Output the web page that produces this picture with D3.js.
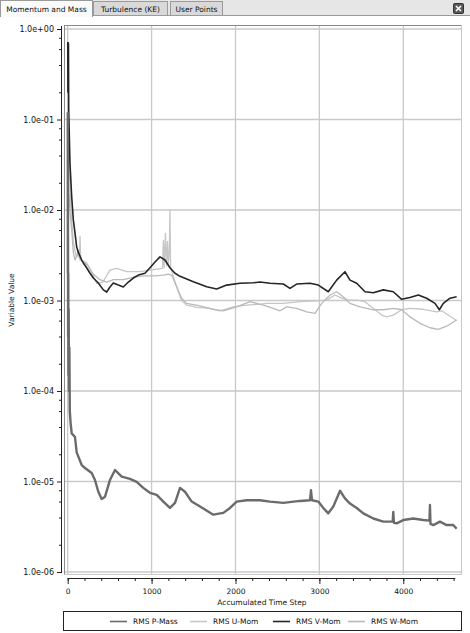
<!DOCTYPE html>
<meta charset="utf-8">
<style>
  body, html { margin:0; padding:0; background:#fff; }
  svg { display:block; }
  text { font-family: "DejaVu Sans", Verdana, sans-serif; fill:#111; }
</style>
<body>
<svg width="470" height="633"></svg>
<script src="https://d3js.org/d3.v7.min.js"></script>
<script>

// tabs of the solver monitor window
var tabNames = ["Momentum and Mass", "Turbulence (KE)", "User Points"];

var seriesNames = ["RMS P-Mass", "RMS U-Mom", "RMS V-Mom", "RMS W-Mom"];

var xTicks = [0, 1000, 2000, 3000, 4000];
var xTickLabels = ["0", "1000", "2000", "3000", "4000"];
var xMinorTicks = d3.range(0, 4601, 200);

var yTicks = [1, 1e-1, 1e-2, 1e-3, 1e-4, 1e-5, 1e-6];
var yTickLabels = ["1.0e+00", "1.0e-01", "1.0e-02", "1.0e-03", "1.0e-04", "1.0e-05", "1.0e-06"];

// [accumulated time step, value]
var pMass = [[1,0.12],[2,2e-3],[3,1.5e-2],[5,4e-4],[7,2e-3],[9,1.5e-4],[12,8e-4],[15,1e-4],[20,3e-4],
  [25,6e-5],[35,4.4e-5],[48,3.4e-5],[87,3.1e-5],[107,2.1e-5],[167,1.52e-5],[206,1.41e-5],[286,1.24e-5],
  [325,1.04e-5],[365,7.7e-6],[405,6.4e-6],[445,6.8e-6],[504,1.04e-5],[564,1.34e-5],[644,1.13e-5],
  [743,1.07e-5],[822,9.9e-6],[901,8.5e-6],[981,7.5e-6],[1061,7.1e-6],[1140,6.0e-6],[1219,5.1e-6],
  [1279,5.8e-6],[1339,8.5e-6],[1398,7.7e-6],[1478,6.0e-6],[1577,5.3e-6],[1735,4.3e-6],[1855,4.5e-6],
  [1935,5.1e-6],[2014,6.0e-6],[2134,6.2e-6],[2292,6.2e-6],[2411,6.0e-6],[2570,5.8e-6],[2769,6.1e-6],
  [2888,6.2e-6],[2900,8.0e-6],[2912,6.2e-6],[2987,6.0e-6],[3047,5.1e-6],[3106,4.45e-6],[3166,5.3e-6],
  [3225,7.1e-6],[3246,7.9e-6],[3305,6.5e-6],[3365,5.7e-6],[3445,5.1e-6],[3524,4.45e-6],[3643,3.9e-6],
  [3762,3.6e-6],[3874,3.6e-6],[3881,4.6e-6],[3888,3.5e-6],[3921,3.45e-6],[4000,3.75e-6],[4119,3.9e-6],
  [4238,3.75e-6],[4312,3.7e-6],[4318,5.5e-6],[4324,3.4e-6],[4358,3.3e-6],[4437,3.6e-6],[4517,3.3e-6],
  [4596,3.3e-6],[4636,3.0e-6]];

var uMom = [[2,0.1],[4,0.03],[6,0.08],[10,0.04],[20,0.025],[35,0.012],[48,0.0075],[67,0.0045],[87,0.0035],
  [107,0.003],[127,0.0033],[140,0.0029],[147,0.0051],[155,0.0028],[226,0.0026],[290,0.002],[345,0.00155],
  [420,0.0016],[504,0.00217],[584,0.00227],[703,0.00208],[862,0.00208],[981,0.00217],[1130,0.00227],
  [1140,0.0046],[1150,0.0023],[1165,0.0055],[1178,0.0024],[1190,0.0045],[1200,0.0025],[1212,0.0036],
  [1219,0.01],[1226,0.0024],[1240,0.0021],[1279,0.0016],[1319,0.00125],[1358,0.001],[1418,0.00089],
  [1537,0.00084],[1696,0.00082],[1815,0.00077],[1974,0.00085],[2134,0.00089],[2292,0.00091],[2372,0.00093],
  [2570,0.00093],[2769,0.00097],[2968,0.00099],[3087,0.00101],[3186,0.00115],[3266,0.00106],[3345,0.00101],
  [3445,0.00101],[3544,0.00097],[3663,0.00079],[3743,0.00069],[3802,0.00066],[3881,0.00069],[3981,0.00079],
  [4080,0.00082],[4238,0.0008],[4398,0.00075],[4458,0.00077],[4557,0.00067],[4636,0.0006]];

var vMom = [[1,0.72],[3,0.2],[5,0.65],[7,0.22],[9,0.7],[12,0.13],[27,0.033],[48,0.0139],[67,0.0078],
  [87,0.0056],[107,0.0039],[127,0.0034],[167,0.0028],[186,0.0026],[226,0.0023],[266,0.002],[306,0.00177],
  [365,0.00156],[425,0.00131],[465,0.00124],[504,0.00141],[544,0.00156],[604,0.00148],[663,0.00141],
  [723,0.0016],[782,0.00177],[842,0.00191],[921,0.002],[981,0.0023],[1041,0.00266],[1100,0.00303],
  [1160,0.0028],[1219,0.0023],[1279,0.002],[1339,0.00185],[1498,0.00161],[1657,0.00142],[1776,0.00134],
  [1895,0.00148],[2054,0.00155],[2212,0.00157],[2292,0.0016],[2411,0.00155],[2570,0.00152],[2650,0.00136],
  [2729,0.00152],[2888,0.00155],[2987,0.00148],[3106,0.00125],[3206,0.00168],[3305,0.00208],[3365,0.00168],
  [3445,0.00155],[3544,0.00125],[3643,0.00122],[3762,0.00131],[3881,0.00125],[3981,0.00103],[4080,0.00108],
  [4179,0.00115],[4278,0.00106],[4378,0.00093],[4430,0.00079],[4477,0.00093],[4557,0.00106],[4636,0.0011]];

var wMom = [[2,0.05],[5,0.02],[8,0.04],[15,0.015],[30,0.009],[48,0.006],[67,0.0034],[87,0.0028],[107,0.0031],
  [127,0.0036],[150,0.0028],[186,0.0027],[246,0.0024],[306,0.00195],[385,0.0017],[465,0.0016],[544,0.0017],
  [663,0.0017],[782,0.0018],[901,0.00187],[1041,0.00187],[1140,0.00191],[1200,0.00196],[1240,0.0019],
  [1299,0.00142],[1358,0.00106],[1418,0.00093],[1577,0.00087],[1735,0.0008],[1855,0.00077],[2014,0.00085],
  [2173,0.00097],[2332,0.00089],[2451,0.00082],[2531,0.00077],[2610,0.00085],[2729,0.00082],[2849,0.00075],
  [2948,0.00072],[3027,0.00093],[3127,0.00115],[3206,0.00125],[3305,0.00106],[3365,0.00093],[3484,0.00085],
  [3643,0.00079],[3762,0.00079],[3881,0.00082],[3981,0.00079],[4080,0.00066],[4199,0.00056],[4318,0.0005],
  [4417,0.00048],[4517,0.00052],[4636,0.00061]];

var seriesData = [pMass, uMom, vMom, wMom];
var seriesColors = ["#6b6b6b", "#c6c6c6", "#252525", "#b9b9b9"];
var seriesWidths = [2.4, 1.3, 1.6, 1.3];
var drawOrder = [1, 3, 2, 0];

var svg = d3.select("svg");
var W = 470, H = 633;

var frame = {left: 64, right: 461, top: 25, bottom: 574};

var x = d3.scaleLinear()
    .domain([-44, 4688])
    .range([frame.left, frame.right]);

var y = d3.scaleLog()
    .domain([1e-6, 1])
    .range([572, 29]);

// ---- tab bar
svg.append("rect").attr("x", 0).attr("y", 0).attr("width", W).attr("height", 16).attr("fill", "#e6e6e6");
svg.append("line").attr("x1", 0).attr("x2", W).attr("y1", 15.5).attr("y2", 15.5).attr("stroke", "#9a9a9a");

var tabX = [0, 93, 170], tabW = [92, 74, 52];
tabNames.forEach(function(name, i) {
  var active = i == 0;
  svg.append("rect")
    .attr("x", tabX[i] + 0.5).attr("y", active ? 0.5 : 1.5)
    .attr("width", tabW[i]).attr("height", active ? 16 : 14)
    .attr("fill", active ? "#fafafa" : "#d9d9d9")
    .attr("stroke", "#9a9a9a");
  svg.append("text")
    .attr("x", tabX[i] + tabW[i] / 2 + 0.5).attr("y", 11.5)
    .attr("text-anchor", "middle")
    .style("font-size", "7.5px")
    .text(name);
});
// cover the bar border under the active tab
svg.append("rect").attr("x", 1).attr("y", 14).attr("width", 91).attr("height", 3).attr("fill", "#fafafa");

// close button
svg.append("rect").attr("x", 453.5).attr("y", 3.5).attr("width", 10).attr("height", 10)
  .attr("rx", 1).attr("fill", "#5a5a5a").attr("stroke", "#333");
svg.append("path").attr("d", "M456,6 L461,11 M461,6 L456,11")
  .attr("stroke", "#fff").attr("stroke-width", 1.6);

// ---- plot frame and grid
var plot = svg.append("g");

plot.append("rect")
  .attr("x", frame.left + 0.5).attr("y", frame.top + 0.5)
  .attr("width", frame.right - frame.left).attr("height", frame.bottom - frame.top)
  .attr("fill", "#fff").attr("stroke", "#c8c8c8");

plot.selectAll(".vgrid").data(xTicks).enter().append("line")
  .attr("class", "vgrid")
  .attr("x1", function(d) { return x(d); }).attr("x2", function(d) { return x(d); })
  .attr("y1", frame.top).attr("y2", frame.bottom)
  .attr("stroke", "#c9c9c9").attr("stroke-width", 1.3);

plot.selectAll(".hgrid").data(yTicks).enter().append("line")
  .attr("class", "hgrid")
  .attr("x1", frame.left).attr("x2", frame.right)
  .attr("y1", function(d) { return y(d); }).attr("y2", function(d) { return y(d); })
  .attr("stroke", "#c9c9c9").attr("stroke-width", 1.3);

plot.append("line").attr("x1", frame.left + 0.5).attr("x2", frame.left + 0.5)
  .attr("y1", frame.top).attr("y2", frame.bottom).attr("stroke", "#8a8a8a");
plot.append("line").attr("x1", frame.left).attr("x2", frame.right)
  .attr("y1", frame.top + 0.5).attr("y2", frame.top + 0.5).attr("stroke", "#8a8a8a");

svg.append("clipPath").attr("id", "clip").append("rect")
  .attr("x", frame.left + 1).attr("y", frame.top + 1)
  .attr("width", frame.right - frame.left - 1).attr("height", frame.bottom - frame.top - 1);

var line = d3.line()
  .x(function(d) { return x(d[0]); })
  .y(function(d) { return y(d[1]); });

var lines = plot.append("g").attr("clip-path", "url(#clip)");
drawOrder.forEach(function(i) {
  lines.append("path")
    .datum(seriesData[i])
    .attr("fill", "none")
    .attr("stroke", seriesColors[i])
    .attr("stroke-width", seriesWidths[i])
    .attr("stroke-linejoin", "round")
    .attr("d", line);
});

// ---- y axis
var yAxisG = svg.append("g")
  .attr("transform", "translate(62,0)")
  .call(d3.axisLeft(y)
    .tickValues(yTicks)
    .tickFormat(function(d, i) { return yTickLabels[i]; })
    .tickSize(5)
    .tickPadding(3)
    .tickSizeOuter(0));
yAxisG.select(".domain").remove();
yAxisG.selectAll("text").style("font-size", "8px").style("font-family", "\"DejaVu Sans\", sans-serif").attr("fill", "#111");
yAxisG.selectAll(".tick line").attr("stroke", "#222");

var yMinor = [];
yTicks.slice(1).forEach(function(dec) { [2, 4, 6, 8].forEach(function(m) { yMinor.push(dec * m); }); });
var yMinorG = svg.append("g")
  .attr("transform", "translate(62,0)")
  .call(d3.axisLeft(y).tickValues(yMinor).tickFormat("").tickSize(3).tickSizeOuter(0));
yMinorG.select(".domain").remove();
yMinorG.selectAll(".tick line").attr("stroke", "#222");

svg.append("line").attr("x1", 61.5).attr("x2", 61.5).attr("y1", frame.top + 1).attr("y2", 573)
  .attr("stroke", "#222");

svg.append("text")
  .attr("transform", "translate(14,300) rotate(-90)")
  .attr("text-anchor", "middle")
  .style("font-size", "7.5px")
  .text("Variable Value");

// ---- x axis
var xAxisG = svg.append("g")
  .attr("transform", "translate(0,578)")
  .call(d3.axisBottom(x)
    .tickValues(xTicks)
    .tickFormat(function(d, i) { return xTickLabels[i]; })
    .tickSize(6)
    .tickPadding(5)
    .tickSizeOuter(0));
xAxisG.select(".domain").remove();
xAxisG.selectAll("text").style("font-size", "7.5px").style("font-family", "\"DejaVu Sans\", sans-serif").attr("fill", "#111");
xAxisG.selectAll(".tick line").attr("stroke", "#222");

var xMinorG = svg.append("g")
  .attr("transform", "translate(0,578)")
  .call(d3.axisBottom(x).tickValues(xMinorTicks).tickFormat("").tickSize(3).tickSizeOuter(0));
xMinorG.select(".domain").remove();
xMinorG.selectAll(".tick line").attr("stroke", "#222");

svg.append("line").attr("x1", x(0)).attr("x2", x(4620)).attr("y1", 578.5).attr("y2", 578.5)
  .attr("stroke", "#222");

svg.append("text")
  .attr("x", 262).attr("y", 605)
  .attr("text-anchor", "middle")
  .style("font-size", "7.5px")
  .text("Accumulated Time Step");

// ---- legend
svg.append("rect").attr("x", 63.5).attr("y", 611.5).attr("width", 398).attr("height", 19)
  .attr("fill", "#fff").attr("stroke", "#222");

var legendX = [110, 190, 273, 348];
var legend = svg.selectAll(".legend").data(seriesNames).enter().append("g")
  .attr("class", "legend")
  .attr("transform", function(d, i) { return "translate(" + legendX[i] + ",621.5)"; });
legend.append("line").attr("x1", 0).attr("x2", 17).attr("y1", 0).attr("y2", 0)
  .attr("stroke", function(d, i) { return seriesColors[i]; })
  .attr("stroke-width", 1.6);
legend.append("text").attr("x", 23).attr("y", 2.8)
  .style("font-size", "7.5px")
  .text(function(d) { return d; });

</script>
</body>
